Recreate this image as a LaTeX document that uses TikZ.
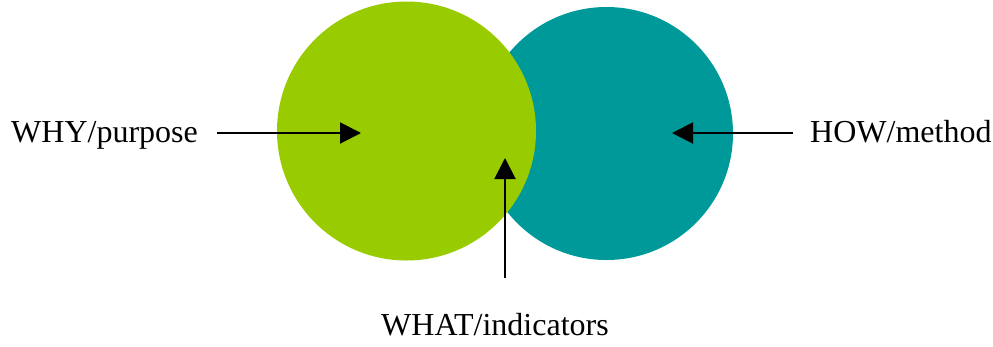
\documentclass[tikz,border=0pt]{standalone}
\usepackage{fontspec}
\setmainfont{Liberation Serif}
\usetikzlibrary{arrows.meta}
\definecolor{leaf}{HTML}{99CC00}
\definecolor{tealc}{HTML}{009999}
\begin{document}
\begin{tikzpicture}[x=1pt,y=-1pt,
  lbl/.style={inner sep=0pt,anchor=base west,font=\fontsize{32}{36}\selectfont},
  pointer/.style={line width=2pt,-{Triangle[length=21pt,width=21pt]}}]
\useasboundingbox (0,0) rectangle (993,346);
\fill[tealc] (606.5,133.5) circle (126.5);
\fill[leaf] (406.5,131) circle (129.5);
\node[lbl] (why) at (11,142) {WHY/purpose};
\node[lbl] (how) at (810,142) {HOW/method};
\node[lbl] (what) at (381,335) {WHAT/indicators};
\coordinate (whyS) at (217,133);
\coordinate (whyE) at (361,133);
\coordinate (howS) at (793,133);
\coordinate (howE) at (672,133);
\coordinate (whatS) at (505,278);
\coordinate (whatE) at (505,158);
\draw[pointer] (whyS) -- (whyE);
\draw[pointer] (howS) -- (howE);
\draw[pointer] (whatS) -- (whatE);
\end{tikzpicture}
\end{document}
